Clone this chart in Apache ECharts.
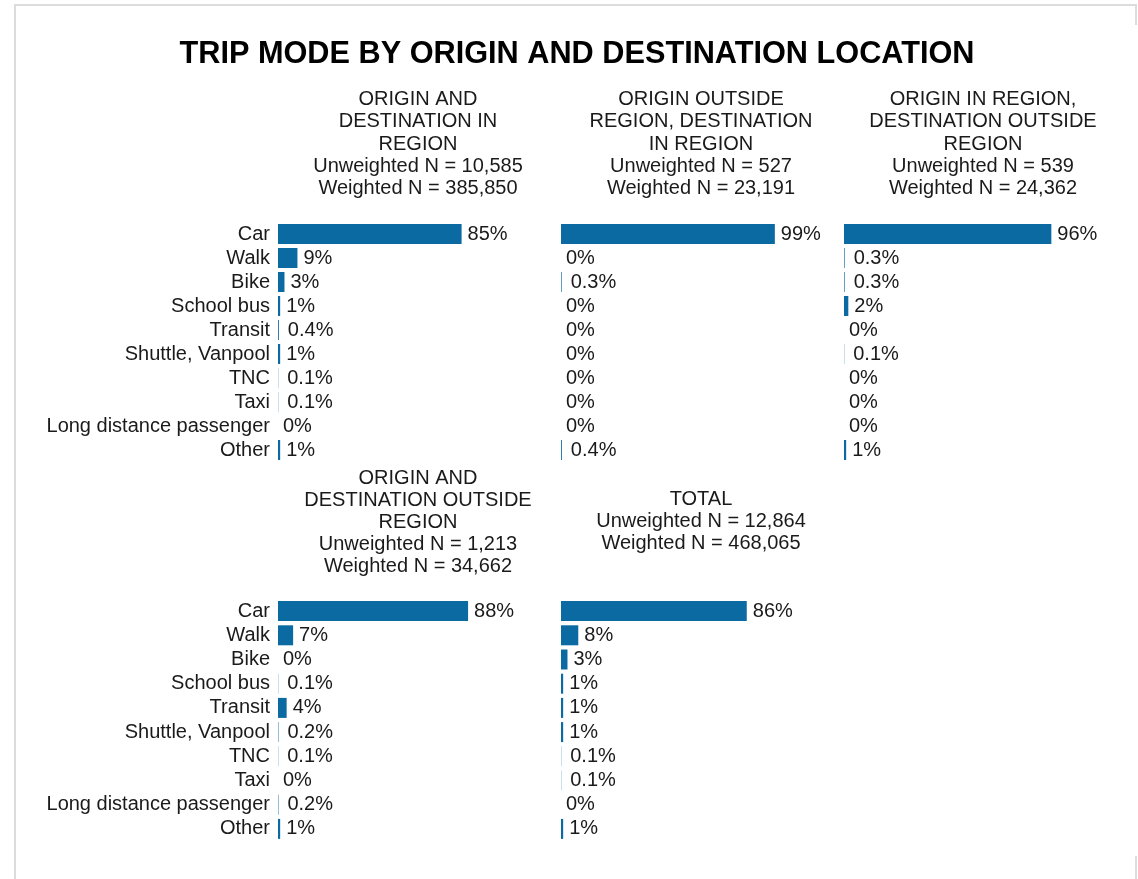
<!DOCTYPE html>
<html>
<head>
<meta charset="utf-8">
<script src="https://cdn.jsdelivr.net/npm/echarts@6/dist/echarts.min.js"></script>
<style>
html,body{margin:0;padding:0;background:#fff;}
#chart{width:1138px;height:879px;}
</style>
</head>
<body>
<div id="chart"></div>
<script>
// ---- DATA ----
const chartTitle = 'TRIP MODE BY ORIGIN AND DESTINATION LOCATION';
const modes = ['Car', 'Walk', 'Bike', 'School bus', 'Transit', 'Shuttle, Vanpool', 'TNC', 'Taxi', 'Long distance passenger', 'Other'];

const panelHeadings = [
  'ORIGIN AND\nDESTINATION IN\nREGION\nUnweighted N = 10,585\nWeighted N = 385,850',
  'ORIGIN OUTSIDE\nREGION, DESTINATION\nIN REGION\nUnweighted N = 527\nWeighted N = 23,191',
  'ORIGIN IN REGION,\nDESTINATION OUTSIDE\nREGION\nUnweighted N = 539\nWeighted N = 24,362',
  'ORIGIN AND\nDESTINATION OUTSIDE\nREGION\nUnweighted N = 1,213\nWeighted N = 34,662',
  'TOTAL\nUnweighted N = 12,864\nWeighted N = 468,065'
];

const odInRegion       = [85, 9, 3, 1, 0.4, 1, 0.1, 0.1, 0, 1];
const originOutside    = [99, 0, 0.3, 0, 0, 0, 0, 0, 0, 0.4];
const destOutside      = [96, 0.3, 0.3, 2, 0, 0.1, 0, 0, 0, 1];
const odOutside        = [88, 7, 0, 0.1, 4, 0.2, 0.1, 0, 0.2, 1];
const totalShares      = [86, 8, 3, 1, 1, 1, 0.1, 0.1, 0, 1];

const panelValues = [odInRegion, originOutside, destOutside, odOutside, totalShares];

// ---- LAYOUT / STYLE ----
const FONT = '"Liberation Sans", Arial, Helvetica, sans-serif';
const BAR_COLOR = '#0b6aa2';
const TEXT_COLOR = '#1a1a1a';
const colLeft = [278, 561, 844];
const panelLayout = [
  {left: colLeft[0], top: 222, height: 240, showCats: true,  hx: 418, hy: 144,   lh: 22.2},
  {left: colLeft[1], top: 222, height: 240, showCats: false, hx: 701, hy: 144,   lh: 22.2},
  {left: colLeft[2], top: 222, height: 240, showCats: false, hx: 983, hy: 144,   lh: 22.2},
  {left: colLeft[0], top: 599, height: 242, showCats: true,  hx: 418, hy: 522,   lh: 22},
  {left: colLeft[1], top: 599, height: 242, showCats: false, hx: 701, hy: 521.5, lh: 22.4}
];

function fmt(v) {
  if (v === 0) return '0%';
  if (v < 1) return v.toFixed(1) + '%';
  return Math.round(v) + '%';
}

const grids = [], xAxes = [], yAxes = [], series = [];
panelLayout.forEach((p, i) => {
  grids.push({left: p.left, top: p.top, width: 216, height: p.height});
  xAxes.push({type: 'value', gridIndex: i, min: 0, max: 100, show: false});
  yAxes.push({
    type: 'category', gridIndex: i, data: modes, inverse: true,
    axisLine: {show: false}, axisTick: {show: false}, splitLine: {show: false},
    axisLabel: {show: p.showCats, interval: 0, fontSize: 20, fontFamily: FONT, color: TEXT_COLOR, margin: 8}
  });
  series.push({
    type: 'bar', xAxisIndex: i, yAxisIndex: i,
    barWidth: 20,
    itemStyle: {color: BAR_COLOR},
    silent: true,
    data: panelValues[i].map(v => ({
      value: v,
      label: {distance: v === 0 ? 5 : (v < 1 ? 9 : 6)}
    })),
    label: {
      show: true, position: 'right',
      fontSize: 20, fontFamily: FONT, color: TEXT_COLOR,
      formatter: (d) => fmt(d.value)
    }
  });
});

const graphics = [
  {type: 'text', x: 577, y: 55, silent: true,
   style: {text: chartTitle, font: 'bold 30.7px ' + FONT, fill: '#000', textAlign: 'center', textVerticalAlign: 'middle'}},
  {type: 'line', silent: true, shape: {x1: 15, y1: 5, x2: 1137, y2: 5}, style: {stroke: '#dcdcdc', lineWidth: 2}},
  {type: 'line', silent: true, shape: {x1: 15, y1: 4, x2: 15, y2: 879}, style: {stroke: '#dcdcdc', lineWidth: 2}},
  {type: 'line', silent: true, shape: {x1: 1136, y1: 4, x2: 1136, y2: 25}, style: {stroke: '#dcdcdc', lineWidth: 2}},
  {type: 'line', silent: true, shape: {x1: 1136, y1: 856, x2: 1136, y2: 879}, style: {stroke: '#dcdcdc', lineWidth: 2}}
];
panelLayout.forEach((p, i) => {
  graphics.push({
    type: 'text', x: p.hx, y: p.hy, silent: true,
    style: {text: panelHeadings[i], font: '20px ' + FONT, fill: TEXT_COLOR,
            textAlign: 'center', textVerticalAlign: 'middle', lineHeight: p.lh}
  });
});

const chart = echarts.init(document.getElementById('chart'), null, {renderer: 'canvas'});
chart.setOption({
  animation: false,
  backgroundColor: '#fff',
  grid: grids,
  xAxis: xAxes,
  yAxis: yAxes,
  series: series,
  graphic: graphics
});
</script>
</body>
</html>
